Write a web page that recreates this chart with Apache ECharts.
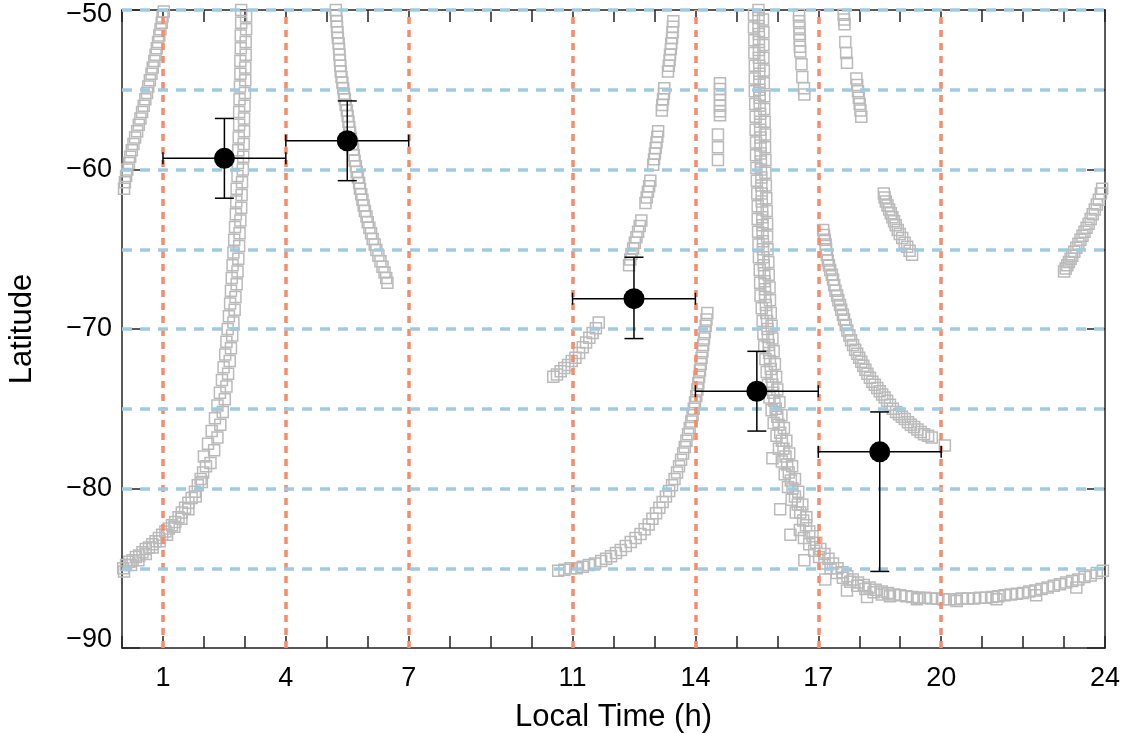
<!DOCTYPE html>
<html>
<head>
<meta charset="utf-8">
<script src="https://cdn.jsdelivr.net/npm/echarts@6/dist/echarts.min.js"></script>
<style>
html,body{margin:0;padding:0;background:#fff;}
#chart{width:1135px;height:733px;}
</style>
</head>
<body>
<div id="chart"></div>
<script>
// ---------- DATA ----------
const xTickLabels = [1, 4, 7, 11, 14, 17, 20, 24];
const xBoundaries = [1, 4, 7, 11, 14, 17, 20];
const yGridLines = [-50, -55, -60, -65, -70, -75, -80, -85];

// binned means: [localTime, latitude, ltLow, ltHigh, latLow, latHigh]
const binnedMeans = [
  [2.5, -59.3, 1, 4, -61.8, -56.8],
  [5.5, -58.2, 4, 7, -60.7, -55.7],
  [12.5, -68.1, 11, 14, -70.6, -65.5],
  [15.5, -73.9, 14, 17, -76.4, -71.4],
  [18.5, -77.7, 17, 20, -85.2, -75.2]
];

// individual observations (grey squares), one array per track
const trackA = [[0.05,-61.2],[0.07,-60.8],[0.10,-60.4],[0.13,-60.0],[0.17,-59.6],[0.20,-59.2],[0.24,-58.8],[0.28,-58.4],[0.32,-58.0],[0.37,-57.6],[0.41,-57.2],[0.45,-56.8],[0.49,-56.4],[0.53,-56.0],[0.57,-55.6],[0.61,-55.2],[0.64,-54.8],[0.68,-54.4],[0.72,-54.0],[0.75,-53.6],[0.79,-53.2],[0.82,-52.8],[0.85,-52.4],[0.88,-52.0],[0.91,-51.6],[0.94,-51.2],[0.97,-50.8],[0.99,-50.4],[1.02,-50.1]];
const trackB1 = [[2.91,-50.0],[2.91,-50.8],[2.90,-51.6],[2.90,-52.4],[2.89,-53.2],[2.89,-54.0],[2.88,-54.8],[2.87,-55.6],[2.86,-56.4],[2.86,-57.2],[2.85,-58.0],[2.84,-58.8],[2.83,-59.6],[2.82,-60.4],[2.80,-61.2],[2.79,-62.0],[2.78,-62.8],[2.76,-63.6],[2.74,-64.4],[2.72,-65.2],[2.70,-66.0],[2.68,-66.8],[2.66,-67.6],[2.64,-68.4],[2.61,-69.2],[2.58,-70.0],[2.55,-70.8],[2.52,-71.6],[2.48,-72.4],[2.44,-73.2],[2.39,-74.0],[2.33,-74.8],[2.27,-75.6],[2.19,-76.4],[2.10,-77.2],[2.00,-78.0]];
const trackB2 = [[3.03,-50.4],[3.03,-51.2],[3.02,-52.0],[3.02,-52.8],[3.01,-53.6],[3.01,-54.4],[3.00,-55.2],[2.99,-56.0],[2.98,-56.8],[2.98,-57.6],[2.97,-58.4],[2.96,-59.2],[2.95,-60.0],[2.93,-60.8],[2.92,-61.6],[2.91,-62.4],[2.89,-63.2],[2.87,-64.0],[2.86,-64.8],[2.84,-65.6],[2.82,-66.4],[2.80,-67.2],[2.77,-68.0],[2.75,-68.8],[2.72,-69.6],[2.69,-70.4],[2.66,-71.2],[2.63,-72.0],[2.59,-72.8],[2.55,-73.6],[2.51,-74.4],[2.46,-75.2],[2.40,-76.0],[2.33,-76.8],[2.25,-77.6],[2.16,-78.4]];
const trackB3 = [[2.05,-78.6],[1.98,-79.0],[1.92,-79.4],[1.85,-79.8],[1.78,-80.2],[1.70,-80.6],[1.62,-80.9],[1.54,-81.2],[1.46,-81.5],[1.38,-81.8],[1.30,-82.1],[1.22,-82.3],[1.14,-82.5],[1.06,-82.7],[0.98,-82.9],[0.90,-83.1],[0.82,-83.3],[0.74,-83.5],[0.66,-83.7],[0.58,-83.8],[0.50,-84.0],[0.42,-84.2],[0.34,-84.3],[0.26,-84.5],[0.18,-84.6],[0.10,-84.8],[0.03,-85.0]];
const trackB4 = [[1.95,-79.6],[1.80,-80.5],[1.62,-81.3],[1.45,-81.9],[1.28,-82.4],[1.10,-82.9],[0.92,-83.3],[0.75,-83.7],[0.58,-84.1],[0.40,-84.5],[0.22,-84.8],[0.05,-85.2]];
const trackC = [[5.22,-50.0],[5.23,-50.35],[5.24,-50.7],[5.25,-51.05],[5.26,-51.4],[5.27,-51.75],[5.29,-52.1],[5.30,-52.45],[5.31,-52.8],[5.32,-53.15],[5.33,-53.5],[5.34,-53.85],[5.36,-54.2],[5.38,-54.55],[5.40,-54.9],[5.42,-55.25],[5.44,-55.6],[5.46,-55.95],[5.49,-56.3],[5.51,-56.65],[5.53,-57.0],[5.55,-57.35],[5.57,-57.7],[5.59,-58.05],[5.62,-58.4],[5.64,-58.75],[5.66,-59.1],[5.68,-59.45],[5.71,-59.8],[5.73,-60.15],[5.76,-60.5],[5.79,-60.85],[5.81,-61.2],[5.84,-61.55],[5.87,-61.9],[5.90,-62.25],[5.93,-62.6],[5.97,-62.95],[6.00,-63.3],[6.04,-63.65],[6.08,-64.0],[6.12,-64.35],[6.17,-64.7],[6.21,-65.05],[6.26,-65.4],[6.31,-65.75],[6.36,-66.1],[6.41,-66.45],[6.45,-66.8],[6.48,-67.1]];
const trackD = [[10.53,-73.0],[10.62,-72.85],[10.71,-72.65],[10.80,-72.45],[10.89,-72.25],[10.98,-72.0],[11.07,-71.8],[11.16,-71.5],[11.25,-71.15],[11.33,-70.85],[11.41,-70.55],[11.49,-70.25],[11.57,-69.95],[11.64,-69.6]];
const trackE = [[13.46,-50.7],[13.45,-51.05],[13.44,-51.4],[13.43,-51.75],[13.41,-52.1],[13.40,-52.45],[13.38,-52.8],[13.37,-53.15],[13.35,-53.5],[13.33,-53.85],[13.24,-54.9],[13.23,-55.25],[13.21,-55.6],[13.19,-55.95],[13.18,-56.3],[13.09,-57.6],[13.07,-57.95],[13.05,-58.3],[13.03,-58.65],[13.01,-59.0],[12.99,-59.35],[12.97,-59.7],[12.90,-60.7],[12.87,-61.05],[12.84,-61.4],[12.81,-61.75],[12.78,-62.1],[12.68,-63.2],[12.64,-63.55],[12.60,-63.9],[12.56,-64.25],[12.52,-64.6],[12.48,-64.95],[12.44,-65.3],[12.41,-65.65],[12.38,-66.0]];
const trackF = [[10.65,-85.15],[10.80,-85.1],[10.95,-85.0],[11.10,-85.0],[11.25,-84.9],[11.40,-84.8],[11.55,-84.7],[11.70,-84.55],[11.82,-84.4],[11.94,-84.25],[12.06,-84.05],[12.18,-83.85],[12.30,-83.6],[12.42,-83.35],[12.54,-83.1],[12.66,-82.85],[12.76,-82.55],[12.86,-82.25],[12.95,-81.9],[13.04,-81.55],[13.12,-81.2],[13.20,-80.85],[13.28,-80.5],[13.36,-80.15],[13.43,-79.8],[13.49,-79.4],[13.55,-79.0],[13.60,-78.6],[13.65,-78.2],[13.70,-77.8],[13.74,-77.4],[13.78,-77.0],[13.82,-76.6],[13.86,-76.2],[13.90,-75.8],[13.93,-75.4],[13.96,-75.0],[13.99,-74.6],[14.02,-74.2],[14.05,-73.8],[14.07,-73.4],[14.09,-73.0],[14.11,-72.6],[14.13,-72.2],[14.15,-71.8],[14.17,-71.4],[14.19,-71.0],[14.21,-70.6],[14.23,-70.2],[14.25,-69.8],[14.27,-69.4],[14.29,-69.0]];
const trackGc = [[15.54,-50.0],[15.54,-50.5],[15.54,-51.0],[15.55,-51.5],[15.55,-52.0],[15.55,-52.5],[15.55,-53.0],[15.56,-53.5],[15.56,-54.0],[15.56,-54.5],[15.56,-55.0],[15.57,-55.5],[15.57,-56.0],[15.58,-56.5],[15.58,-57.0],[15.58,-57.5],[15.59,-58.0],[15.59,-58.5],[15.59,-59.0],[15.60,-59.5],[15.60,-60.0],[15.61,-60.5],[15.61,-61.0],[15.62,-61.5],[15.62,-62.0],[15.63,-62.5],[15.63,-63.0],[15.64,-63.5],[15.64,-64.0],[15.65,-64.5],[15.65,-65.0],[15.66,-65.5],[15.67,-66.0],[15.68,-66.5],[15.69,-67.0],[15.70,-67.5],[15.70,-68.0],[15.72,-68.5],[15.73,-69.0],[15.75,-69.5],[15.76,-70.0],[15.77,-70.5],[15.79,-71.0],[15.80,-71.5],[15.82,-72.0],[15.84,-72.5],[15.86,-73.0],[15.88,-73.5],[15.90,-74.0],[15.93,-74.5],[15.96,-75.0],[16.00,-75.5],[16.03,-76.0],[16.07,-76.5],[16.11,-77.0],[16.15,-77.5],[16.20,-78.0],[16.24,-78.5],[16.28,-79.0],[16.33,-79.5],[16.37,-80.0],[16.43,-80.5],[16.50,-81.0],[16.56,-81.5],[16.63,-82.0]];
const trackGl = [[15.43,-50.3],[15.43,-51.1],[15.44,-51.9],[15.44,-52.7],[15.45,-53.5],[15.45,-54.3],[15.45,-55.1],[15.46,-55.9],[15.47,-56.7],[15.47,-57.5],[15.48,-58.3],[15.48,-59.1],[15.49,-59.9],[15.50,-60.7],[15.51,-61.5],[15.52,-62.3],[15.52,-63.1],[15.53,-63.9],[15.54,-64.7],[15.55,-65.5],[15.57,-66.3],[15.58,-67.1],[15.59,-67.9],[15.62,-68.7],[15.64,-69.5],[15.66,-70.3],[15.68,-71.1],[15.71,-71.9],[15.74,-72.7],[15.77,-73.5],[15.81,-74.3],[15.86,-75.1],[15.91,-75.9],[15.98,-76.7],[16.04,-77.5],[16.11,-78.3],[16.18,-79.1],[16.26,-79.9],[16.35,-80.7],[16.45,-81.5]];
const trackGr = [[15.65,-50.6],[15.66,-51.4],[15.66,-52.2],[15.66,-53.0],[15.67,-53.8],[15.67,-54.6],[15.68,-55.4],[15.68,-56.2],[15.69,-57.0],[15.70,-57.8],[15.70,-58.6],[15.71,-59.4],[15.71,-60.2],[15.72,-61.0],[15.73,-61.8],[15.74,-62.6],[15.75,-63.4],[15.75,-64.2],[15.76,-65.0],[15.78,-65.8],[15.79,-66.6],[15.81,-67.4],[15.82,-68.2],[15.84,-69.0],[15.86,-69.8],[15.88,-70.6],[15.91,-71.4],[15.94,-72.2],[15.97,-73.0],[16.00,-73.8],[16.05,-74.6],[16.10,-75.4],[16.16,-76.2],[16.22,-77.0],[16.29,-77.8],[16.36,-78.6],[16.43,-79.4],[16.51,-80.2],[16.61,-81.0],[16.71,-81.8]];
const trackGcurve = [[16.70,-82.3],[16.78,-82.7],[16.86,-83.0],[16.95,-83.4],[17.05,-83.8],[17.15,-84.1],[17.25,-84.4],[17.36,-84.7],[17.47,-85.0],[17.59,-85.25],[17.71,-85.5],[17.84,-85.7],[17.97,-85.9],[18.11,-86.05],[18.25,-86.2],[18.40,-86.35],[18.55,-86.45],[18.70,-86.55],[18.85,-86.65],[19.00,-86.7]];
const trackGcurve2 = [[16.55,-82.6],[16.65,-83.1],[16.78,-83.5],[16.90,-83.9],[17.02,-84.3],[17.15,-84.7],[17.30,-85.0],[17.45,-85.3],[17.60,-85.6],[17.78,-85.85],[17.95,-86.1],[18.15,-86.3],[18.35,-86.5],[18.55,-86.65],[18.75,-86.75]];
const trackGflat = [[19.15,-86.75],[19.30,-86.8],[19.45,-86.85],[19.60,-86.85],[19.75,-86.9],[19.90,-86.9],[20.05,-86.95],[20.20,-86.95],[20.35,-86.95],[20.50,-86.9],[20.65,-86.9],[20.80,-86.9],[20.95,-86.85],[21.10,-86.85],[21.25,-86.8],[21.40,-86.75],[21.55,-86.7],[21.70,-86.65],[21.85,-86.6],[22.00,-86.55],[22.15,-86.45],[22.30,-86.4],[22.45,-86.3],[22.60,-86.2],[22.75,-86.1],[22.90,-86.0],[23.05,-85.9],[23.20,-85.8],[23.35,-85.7],[23.50,-85.55],[23.65,-85.45],[23.80,-85.3],[23.95,-85.15]];
const trackGscatter = [[15.88,-78.1],[16.07,-81.3],[16.32,-82.9],[16.66,-84.5],[17.17,-85.7],[17.70,-86.4],[18.19,-86.8],[19.41,-86.95],[20.38,-87.05],[21.35,-86.95],[22.32,-86.7],[23.30,-86.2]];
const trackH = [[14.60,-54.6],[14.60,-54.95],[14.60,-55.3],[14.60,-55.65],[14.60,-56.0],[14.60,-56.35],[14.60,-56.6],[14.55,-57.8],[14.55,-58.6],[14.55,-59.4]];
const trackI = [[16.53,-50.3],[16.53,-50.7],[16.54,-51.1],[16.54,-51.5],[16.55,-51.9],[16.55,-52.3],[16.56,-52.6],[16.59,-53.4],[16.61,-54.2],[16.65,-54.9],[16.66,-55.3]];
const trackJ = [[17.62,-50.3],[17.63,-50.6],[17.64,-50.9],[17.66,-52.0],[17.68,-52.7],[17.70,-53.3],[17.93,-54.3],[17.95,-54.7],[17.97,-55.1],[17.99,-55.5],[18.01,-55.9],[18.03,-56.3],[18.05,-56.7]];
const trackK = [[17.12,-63.8],[17.14,-64.1],[17.16,-64.4],[17.18,-64.7],[17.19,-65.0],[17.21,-65.35],[17.23,-65.7],[17.26,-66.0],[17.29,-66.3],[17.33,-66.6],[17.36,-66.9],[17.39,-67.25],[17.42,-67.6],[17.46,-67.9],[17.49,-68.2],[17.53,-68.5],[17.56,-68.8],[17.60,-69.1],[17.63,-69.4],[17.67,-69.75],[17.71,-70.1],[17.76,-70.4],[17.80,-70.7],[17.85,-71.0],[17.90,-71.3],[17.95,-71.55],[18.00,-71.8],[18.05,-72.05],[18.10,-72.3],[18.15,-72.55],[18.20,-72.8],[18.26,-73.05],[18.32,-73.3],[18.38,-73.5],[18.44,-73.7],[18.50,-73.9],[18.56,-74.1],[18.62,-74.3],[18.68,-74.5],[18.75,-74.75],[18.82,-75.0],[18.90,-75.2],[18.97,-75.35],[19.04,-75.5],[19.11,-75.65],[19.19,-75.85],[19.26,-76.0],[19.34,-76.15],[19.42,-76.3],[19.50,-76.45],[19.58,-76.6],[19.68,-76.7],[19.77,-76.8],[20.09,-77.3]];
const trackL = [[18.60,-61.5],[18.62,-61.75],[18.65,-62.0],[18.69,-62.25],[18.73,-62.5],[18.77,-62.75],[18.81,-63.0],[18.85,-63.25],[18.89,-63.5],[18.94,-63.8],[18.99,-64.05],[19.05,-64.3],[19.11,-64.6],[19.17,-64.85],[19.23,-65.1],[19.29,-65.35]];
const trackM = [[23.00,-66.4],[23.04,-66.2],[23.08,-66.0],[23.12,-65.8],[23.16,-65.6],[23.20,-65.4],[23.25,-65.15],[23.30,-64.9],[23.35,-64.65],[23.40,-64.4],[23.45,-64.15],[23.50,-63.9],[23.55,-63.65],[23.60,-63.4],[23.65,-63.1],[23.70,-62.8],[23.75,-62.5],[23.80,-62.2],[23.85,-61.9],[23.90,-61.5],[23.93,-61.2]];

// ---------- CHART ----------
const FONT = '"Liberation Sans", Arial, Helvetica, sans-serif';
const greyPoints = [].concat(trackA, trackB1, trackB2, trackB3, trackB4, trackC, trackD, trackE, trackF,
  trackGc, trackGl, trackGr, trackGcurve, trackGcurve2, trackGflat, trackGscatter,
  trackH, trackI, trackJ, trackK, trackL, trackM);

const minusText = v => (v < 0 ? '\u2212' + Math.abs(v) : String(v));
const axisLineStyle = { color: '#222', width: 1.5 };

const chart = echarts.init(document.getElementById('chart'), null, { renderer: 'canvas' });

const xBase = {
  type: 'value', min: 0, max: 24, interval: 1,
  axisLine: { show: true, onZero: false, lineStyle: axisLineStyle },
  axisTick: { show: true, inside: true, length: 12, lineStyle: { color: '#222', width: 1.5 } },
  splitLine: { show: false }
};
const yBase = {
  type: 'value', min: -90, max: -50, interval: 10,
  axisLine: { show: true, onZero: false, lineStyle: axisLineStyle },
  axisTick: { show: true, inside: true, length: 18, lineStyle: { color: '#222', width: 1.5 } },
  minorTick: { show: true, splitNumber: 2, length: 9, lineStyle: { color: '#222', width: 1.5 } },
  splitLine: { show: false }
};

chart.setOption({
  animation: false,
  backgroundColor: '#fff',
  grid: { left: 122, right: 30, top: 10, bottom: 85, containLabel: false, outerBoundsMode: 'none' },
  xAxis: [
    Object.assign({}, xBase, {
      position: 'bottom',
      name: 'Local Time (h)', nameLocation: 'middle', nameGap: 54,
      nameTextStyle: { fontFamily: FONT, fontSize: 31, color: '#000' },
      axisLabel: {
        show: true, margin: 17, fontFamily: FONT, fontSize: 27, color: '#000',
        formatter: v => (xTickLabels.indexOf(v) >= 0 ? String(v) : '')
      }
    }),
    Object.assign({}, xBase, { position: 'top', axisLabel: { show: false } })
  ],
  yAxis: [
    Object.assign({}, yBase, {
      position: 'left',
      name: 'Latitude', nameLocation: 'middle', nameGap: 84,
      nameTextStyle: { fontFamily: FONT, fontSize: 31, color: '#000' },
      axisLabel: {
        show: true, margin: 10, fontFamily: FONT, fontSize: 27, color: '#000',
        formatter: v => (v === -50 ? '{top|' + minusText(v) + '}' : v === -90 ? '{bot|' + minusText(v) + '}' : minusText(v)),
        rich: {
          top: { fontFamily: FONT, fontSize: 27, color: '#000', padding: [10, 0, 0, 0] },
          bot: { fontFamily: FONT, fontSize: 27, color: '#000', padding: [0, 0, 16, 0] }
        }
      }
    }),
    Object.assign({}, yBase, { position: 'right', axisLabel: { show: false } })
  ],
  series: [
    {
      type: 'scatter', xAxisIndex: 0, yAxisIndex: 0, z: 2,
      symbol: 'rect', symbolSize: 11, silent: true, large: false,
      itemStyle: { color: 'rgba(255,255,255,0)', borderColor: '#bababa', borderWidth: 1.5, opacity: 1 },
      data: greyPoints
    },
    {
      type: 'line', xAxisIndex: 0, yAxisIndex: 0, data: [], z: 3,
      markLine: {
        silent: true, symbol: ['none', 'none'], label: { show: false }, animation: false,
        data: xBoundaries.map(v => ({ xAxis: v, lineStyle: { color: '#fa8a68', width: 3.5, type: [7, 6], opacity: 1 } }))
          .concat(yGridLines.map(v => ({ yAxis: v, lineStyle: { color: '#9ecbe2', width: 3.5, type: [10, 8], opacity: 1 } })))
      }
    },
    {
      type: 'custom', xAxisIndex: 0, yAxisIndex: 0, z: 10, silent: true,
      data: binnedMeans,
      encode: { x: [0, 2, 3], y: [1, 4, 5] },
      renderItem: function (params, api) {
        const x = api.value(0), y = api.value(1);
        const l = api.coord([api.value(2), y]);
        const r = api.coord([api.value(3), y]);
        const b = api.coord([x, api.value(4)]);
        const t = api.coord([x, api.value(5)]);
        const st = { stroke: '#000', lineWidth: 1.5 };
        const capH = 6, capV = 9.5;
        return {
          type: 'group',
          children: [
            { type: 'line', shape: { x1: l[0], y1: l[1], x2: r[0], y2: r[1] }, style: st },
            { type: 'line', shape: { x1: l[0], y1: l[1] - capH, x2: l[0], y2: l[1] + capH }, style: st },
            { type: 'line', shape: { x1: r[0], y1: r[1] - capH, x2: r[0], y2: r[1] + capH }, style: st },
            { type: 'line', shape: { x1: b[0], y1: b[1], x2: t[0], y2: t[1] }, style: st },
            { type: 'line', shape: { x1: b[0] - capV, y1: b[1], x2: b[0] + capV, y2: b[1] }, style: st },
            { type: 'line', shape: { x1: t[0] - capV, y1: t[1], x2: t[0] + capV, y2: t[1] }, style: st }
          ]
        };
      }
    },
    {
      type: 'scatter', xAxisIndex: 0, yAxisIndex: 0, z: 11, silent: true,
      symbol: 'circle', symbolSize: 21,
      itemStyle: { color: '#000', opacity: 1 },
      data: binnedMeans.map(d => [d[0], d[1]])
    }
  ]
});
</script>
</body>
</html>
